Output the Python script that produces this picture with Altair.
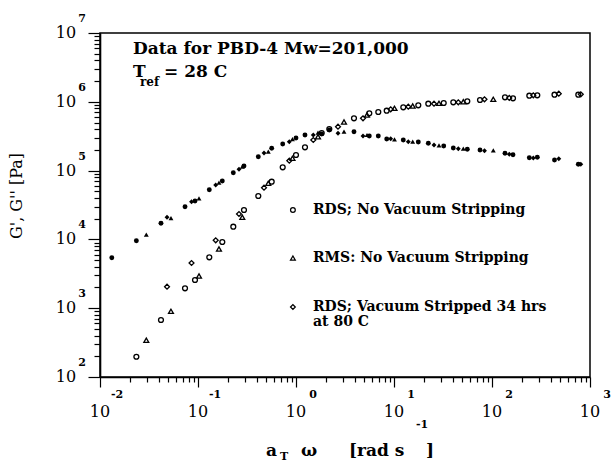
import altair as alt
import pandas as pd

# ---------------- data ----------------
series_names = ["RDS; No Vacuum Stripping", "RMS: No Vacuum Stripping",
                "RDS; Vacuum Stripped 34 hrs at 80 C"]

# RDS, no vacuum stripping (circles)
rds_freq = [0.0132, 0.0235, 0.0419, 0.0737, 0.0932, 0.1304, 0.177, 0.2292, 0.2946,
            0.4124, 0.5649, 0.7316, 1.0, 1.235, 1.829, 2.187, 3.906, 5.598, 6.915,
            8.424, 12.44, 17.70, 22.39, 32.15, 40.29, 55.98, 75.43, 135.7, 163.8,
            240.3, 289.9, 434.3, 759.8]
rds_gp = [None, 197, 674, 1947, 2570, 5494, 9167, 15300, 26750,
          42740, 68960, 111700, 168500, 218200, 352000, 402300, 575700, 680500, 710800,
          742400, 832200, 889500, 938400, 960700, 983300, 1017000, 1062000, 1163000, 1124000,
          1227000, 1243000, 1268000, 1268000]
rds_gpp = [5420, 9570, 17140, 29880, 36150, 52780, 70620, 93200, 116700,
           159200, 211000, 243600, 297700, 329200, 340400, 389200, 367600, 318400, 318400,
           287900, 278500, 260400, 249400, 227900, 213100, 203900, 199200, 178400, 170300,
           154000, 156100, 142600, 123500]

# RMS, no vacuum stripping (triangles)
rms_freq = [0.02968, 0.053, 0.1024, 0.1637, 0.2831, 0.5217, 0.921, 1.677, 3.089,
            5.303, 10.12, 15.52, 28.79, 50.95, 103.1]
rms_gp = [341.6, 901, 2938, 7254, 20960, 65380, 150900, 311000, 508600,
          643100, 804500, 869000, 951000, 1003000, 1087000]
rms_gpp = [11700, 20460, 39570, 66700, 113900, 188200, 287900, 355400, 367600,
           329200, 285000, 263000, 233200, 208100, 197300]

# RDS, vacuum stripped 34 hrs at 80 C (diamonds)
vac_freq = [0.0483, 0.0859, 0.1516, 0.262, 0.4716, 0.8543, 1.501, 2.683, 4.828,
            9.254, 13.99, 25.60, 45.31, 83.84, 150.1, 263.9, 480.4, 805.6]
vac_gp = [2053, 4539, 9703, 23400, 56420, 139300, 278500, 434600, 575700,
          778000, 849000, 938400, 983300, 1087000, 1136000, 1243000, 1311000, 1285000]
vac_gpp = [20960, 35320, 61780, 104400, 180200, 263000, 329200, 348500, 318400,
           290900, 263000, 235600, 208100, 194700, 172600, 152500, 148900, 123500]

x_major = [0.01, 0.1, 1, 10, 100, 1000]
x_exp = ["-2", "-1", "0", "1", "2", "3"]
y_major = [1e2, 1e3, 1e4, 1e5, 1e6, 1e7]
y_exp = ["2", "3", "4", "5", "6", "7"]

legend_sym_x = [0.93, 0.93, 0.93]
legend_sym_y = [26750, 5366, 1041]
legend_txt_x = [1.49, 1.49, 1.49, 1.49]
legend_txt_y = [26750, 5366, 1041, 630]
legend_txt = ["RDS; No Vacuum Stripping", "RMS: No Vacuum Stripping",
              "RDS; Vacuum Stripped 34 hrs", "at 80 C"]

# ---------------- tables ----------------
rows = []
for name, fr, gp, gpp in [(series_names[0], rds_freq, rds_gp, rds_gpp),
                          (series_names[1], rms_freq, rms_gp, rms_gpp),
                          (series_names[2], vac_freq, vac_gp, vac_gpp)]:
    for f, a, b in zip(fr, gp, gpp):
        if a is not None:
            rows.append({"freq": f, "G": a, "mod": "Gp", "series": name})
        rows.append({"freq": f, "G": b, "mod": "Gpp", "series": name})
df = pd.DataFrame(rows)

x_ticks = [k * 10.0 ** e for e in range(-2, 3) for k in range(1, 10)] + [1000.0]
y_ticks = [k * 10.0 ** e for e in range(2, 7) for k in range(1, 10)] + [1e7]

is_major = "abs(log(datum.value)/LN10 - round(log(datum.value)/LN10)) < 0.001"
FONT = "DejaVu Serif"

xs = alt.Scale(type="log", domain=[0.01, 1000], nice=False)
ys = alt.Scale(type="log", domain=[100, 1e7], nice=False)
xaxis = alt.Axis(values=x_ticks, labels=False, title=None, grid=False,
                 domainColor="black", domainWidth=1.6, tickColor="black", tickWidth=1.2,
                 tickSize={"condition": {"test": is_major, "value": 10}, "value": 5})
yaxis = alt.Axis(values=y_ticks, labels=False, title=None, grid=False,
                 domainColor="black", domainWidth=1.6, tickColor="black", tickWidth=1.2,
                 tickSize={"condition": {"test": is_major, "value": 12}, "value": 6})
shape_scale = alt.Scale(domain=series_names, range=["circle", "triangle-up", "diamond"])

X = alt.X("freq:Q", scale=xs, axis=xaxis)
Y = alt.Y("G:Q", scale=ys, axis=yaxis)

open_pts = alt.Chart(df).transform_filter(alt.datum.mod == "Gp").mark_point(
    filled=False, color="black", size=24, strokeWidth=1.3, opacity=1
).encode(x=X, y=Y, shape=alt.Shape("series:N", scale=shape_scale, legend=None))

fill_pts = alt.Chart(df).transform_filter(alt.datum.mod == "Gpp").mark_point(
    filled=True, color="black", size=24, opacity=1
).encode(x=X, y=Y, shape=alt.Shape("series:N", scale=shape_scale, legend=None))

leg_sym = alt.Chart(pd.DataFrame({"freq": legend_sym_x, "G": legend_sym_y,
                                  "series": series_names})).mark_point(
    filled=False, color="black", size=22, strokeWidth=1.3, opacity=1
).encode(x=X, y=Y, shape=alt.Shape("series:N", scale=shape_scale, legend=None))

leg_txt = alt.Chart(pd.DataFrame({"freq": legend_txt_x, "G": legend_txt_y,
                                  "t": legend_txt})).mark_text(
    align="left", baseline="middle", font=FONT, fontSize=14, fontWeight="bold", color="black"
).encode(x=X, y=Y, text="t:N")

ann_big = pd.DataFrame({
    "freq": [0.02171, 0.02171, 0.04498],
    "G": [5.85e6, 2.71e6, 2.71e6],
    "t": ["Data for PBD-4 Mw=201,000", "T", "= 28 C"],
})
ann_big_txt = alt.Chart(ann_big).mark_text(align="left", baseline="middle", font=FONT,
                                           fontSize=17, fontWeight="bold", color="black").encode(
    x=X, y=Y, text="t:N")
ann_sub = pd.DataFrame({"freq": [0.02560], "G": [1.94e6], "t": ["ref"]})
ann_sub_txt = alt.Chart(ann_sub).mark_text(align="left", baseline="middle", font=FONT,
                                           fontSize=12, fontWeight="bold", color="black").encode(
    x=X, y=Y, text="t:N")

# tick labels: "10" with exponent
xlab = pd.DataFrame({"freq": x_major, "e": x_exp})
xten = alt.Chart(xlab).mark_text(font=FONT, fontSize=16, baseline="middle", color="black").encode(
    x=X, y=alt.value(379), text=alt.value("10"))
xsup = alt.Chart(xlab).mark_text(font=FONT, fontSize=11, fontWeight="bold", baseline="middle",
                                 dx=17, color="black").encode(x=X, y=alt.value(362), text="e:N")
ylab = pd.DataFrame({"G": y_major, "e": y_exp})
yten = alt.Chart(ylab).mark_text(font=FONT, fontSize=16, baseline="middle", color="black").encode(
    y=Y, x=alt.value(-34), text=alt.value("10"))
ysup = alt.Chart(ylab).mark_text(font=FONT, fontSize=11, fontWeight="bold", baseline="middle",
                                 dy=-14, color="black").encode(y=Y, x=alt.value(-18), text="e:N")

# axis titles
ytitle = alt.Chart(pd.DataFrame({"t": ["G', G''   [Pa]"]})).mark_text(
    font=FONT, fontSize=16, angle=270, baseline="middle", align="center", color="black"
).encode(x=alt.value(-83), y=alt.value(163), text="t:N")

xt_big = pd.DataFrame({"t": ["a", "\u03c9", "[rad s", "]"],
                       "px": [166, 201, 249, 326], "py": [418, 418, 418, 418]})
xtitle_big = alt.Chart(xt_big).mark_text(font=FONT, align="left", baseline="middle",
                                         color="black", fontSize=17, fontWeight="bold").encode(
    x=alt.X("px:Q", scale=None), y=alt.Y("py:Q", scale=None), text="t:N")
xt_small = pd.DataFrame({"t": ["T", "-1"], "px": [180, 316], "py": [424, 392]})
xtitle_small = alt.Chart(xt_small).mark_text(font=FONT, align="left", baseline="middle",
                                             color="black", fontSize=11, fontWeight="bold").encode(
    x=alt.X("px:Q", scale=None), y=alt.Y("py:Q", scale=None), text="t:N")

chart = alt.layer(open_pts, fill_pts, leg_sym, leg_txt, ann_big_txt, ann_sub_txt,
                  xten, xsup, yten, ysup, ytitle, xtitle_big, xtitle_small).properties(
    width=490, height=344,
    autosize=alt.AutoSizeParams(type="none"),
    padding={"left": 100, "top": 33, "right": 21, "bottom": 87},
    background="white",
).configure_view(stroke="black", strokeWidth=1.5)

chart.save("out.html", embed_options={"renderer": "svg", "actions": False})
